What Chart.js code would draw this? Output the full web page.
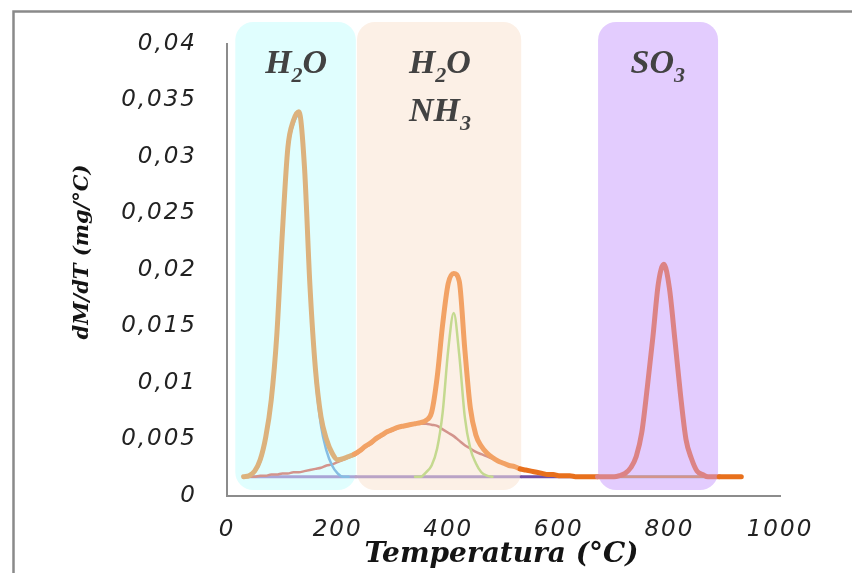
<!DOCTYPE html>
<html>
<head>
<meta charset="utf-8">
<script src="https://cdn.jsdelivr.net/npm/chart.js@4.4.1/dist/chart.umd.min.js"></script>
<style>
  html, body { margin: 0; padding: 0; background: #fff; }
  #wrap { width: 852px; height: 573px; }
</style>
</head>
<body>
<div id="wrap"><canvas id="dtgChart" width="852" height="573"></canvas></div>
<script>
// temperature (°C) and dM/dT (mg/°C)
const temps = [30, 40, 50, 60, 70, 80, 90, 100, 110, 120, 130, 140, 150, 160, 170, 180, 190, 200,
  210, 220, 230, 240, 250, 260, 270, 280, 290, 300, 310, 320, 330, 340, 350, 360, 370, 380, 390, 400,
  410, 420, 430, 440, 450, 460, 470, 480, 490, 500, 510, 520, 530, 540, 550, 560, 570, 580, 590, 600,
  610, 620, 630, 640, 650, 660, 670, 680, 690, 700, 710, 720, 730, 740, 750, 760, 770, 780, 790, 800,
  810, 820, 830, 840, 850, 860, 870, 880, 890, 900, 910, 920, 930];

// total signal (thick orange)
const totalCurve = [0.0017, 0.0018, 0.0022, 0.0032, 0.0052, 0.0085, 0.0142, 0.0232, 0.0308, 0.0332, 0.0340, 0.0292, 0.0186, 0.0112, 0.0070, 0.0050, 0.0038, 0.0032,
  0.0033, 0.0035, 0.0037, 0.0040, 0.0044, 0.0047, 0.0051, 0.0054, 0.0057, 0.0059, 0.0061, 0.0062, 0.0063, 0.0064, 0.0065, 0.0067, 0.0074, 0.0105, 0.0152, 0.0188,
  0.0197, 0.0190, 0.0130, 0.0078, 0.0054, 0.0044, 0.0038, 0.0034, 0.0031, 0.0029, 0.0027, 0.0026, 0.0024, 0.0023, 0.0022, 0.0021, 0.0020, 0.0019, 0.0019, 0.0018,
  0.0018, 0.0018, 0.0017, 0.0017, 0.0017, 0.0017, 0.0017, 0.0017, 0.0017, 0.0017, 0.0018, 0.0020, 0.0025, 0.0035, 0.0056, 0.0096, 0.0140, 0.0188, 0.0205, 0.0184,
  0.0138, 0.0090, 0.0050, 0.0033, 0.0022, 0.0019, 0.0017, 0.0017, 0.0017, 0.0017, 0.0017, 0.0017, 0.0017];

// first water loss (blue component)
const waterPeak1 = [0.0017, 0.0018, 0.0021, 0.0030, 0.0050, 0.0082, 0.0139, 0.0229, 0.0305, 0.0329, 0.0337, 0.0289, 0.0182, 0.0106, 0.0062, 0.0040, 0.0027, 0.0020,
  0.0017, 0.0017, null, null, null, null, null, null, null, null, null, null, null, null, null, null, null, null, null, null,
  null, null, null, null, null, null, null, null, null, null, null, null, null, null, null, null, null, null, null, null,
  null, null, null, null, null, null, null, null, null, null, null, null, null, null, null, null, null, null, null, null,
  null, null, null, null, null, null, null, null, null, null, null, null, null];

// broad ammonia band (rose component)
const ammoniaBand = [0.0017, 0.0017, 0.0017, 0.0018, 0.0018, 0.0019, 0.0019, 0.0020, 0.0020, 0.0021, 0.0021, 0.0022, 0.0023, 0.0024, 0.0025, 0.0027, 0.0028, 0.0030,
  0.0032, 0.0034, 0.0036, 0.0039, 0.0043, 0.0046, 0.0050, 0.0053, 0.0056, 0.0058, 0.0060, 0.0062, 0.0063, 0.0064, 0.0064, 0.0064, 0.0063, 0.0062, 0.0059, 0.0056,
  0.0053, 0.0049, 0.0045, 0.0042, 0.0039, 0.0037, 0.0035, 0.0033, 0.0031, 0.0029, 0.0027, 0.0026, 0.0024, 0.0023, 0.0022, 0.0021, 0.0020, 0.0019, 0.0019, 0.0018,
  0.0018, 0.0018, 0.0017, 0.0017, 0.0017, 0.0017, 0.0017, 0.0017, 0.0017, 0.0017, 0.0017, 0.0017, 0.0017, 0.0017, 0.0017, 0.0017, 0.0017, 0.0017, 0.0017, 0.0017,
  0.0017, 0.0017, 0.0017, 0.0017, 0.0017, 0.0017, 0.0017, 0.0017, 0.0017, 0.0017, 0.0017, 0.0017, 0.0017];

// second water loss (green component)
const waterPeak2 = [null, null, null, null, null, null, null, null, null, null, null, null, null, null, null, null, null, null,
  null, null, null, null, null, null, null, null, null, null, null, null, null, 0.0017, 0.0017, 0.0021, 0.0027, 0.0042, 0.0074, 0.0129,
  0.0162, 0.0125, 0.0070, 0.0042, 0.0029, 0.0021, 0.0018, 0.0017, null, null, null, null, null, null, null, null, null, null, null, null,
  null, null, null, null, null, null, null, null, null, null, null, null, null, null, null, null, null, null, null, null,
  null, null, null, null, null, null, null, null, null, null, null, null, null];

// flat baseline
const baseTemps = [30, 233, 532, 671, 888, 930];
const baseValues = [0.0017, 0.0017, 0.0017, 0.0017, 0.0017, 0.0017];

// shaded regions: [from °C, to °C, fill]
const regions = [
  [15, 233, '#e0fefe'],
  [235, 532, '#fcf0e6'],
  [671, 888, '#e3ccfe']
];
const regionTop = 0.04195;
const regionBottom = 0.00053;

// region labels, "_" marks the subscript digit
const regionLabels = [
  ['H_2O', 125, 0.0374],
  ['H_2O', 385, 0.0374],
  ['NH_3', 385, 0.0332],
  ['SO_3', 779, 0.0374]
];

const xTicks = [0, 200, 400, 600, 800, 1000];
const xTitle = 'Temperatura (°C)';
const yTitle = 'dM/dT (mg/°C)';

function pts(xs, ys) {
  return xs.map((t, i) => ({x: t, y: ys[i]}));
}

// colour of a line depends on which shaded region it passes under
function zoneColor(t, cols) {
  if (t < 233) return cols[0];
  if (t < 532) return cols[1];
  if (t >= 671 && t < 888) return cols[3];
  return cols[2];
}
const totalCols = ['#dcb27d', '#f2a265', '#e8701c', '#dc8385'];
const baseCols = ['#a9a5d6', '#b9a3c6', '#6f4fa5', '#aaa2bf'];

function roundRect(ctx, x, y, w, h, r) {
  ctx.beginPath();
  ctx.moveTo(x + r, y);
  ctx.arcTo(x + w, y, x + w, y + h, r);
  ctx.arcTo(x + w, y + h, x, y + h, r);
  ctx.arcTo(x, y + h, x, y, r);
  ctx.arcTo(x, y, x + w, y, r);
  ctx.closePath();
}

const regionPlugin = {
  id: 'regions',
  beforeDraw(chart) {
    // wide tick lettering like the original
    chart.ctx.letterSpacing = '2px';
  },
  beforeDatasetsDraw(chart) {
    const {ctx, scales: {x, y}} = chart;
    ctx.save();
    const top = y.getPixelForValue(regionTop);
    const bot = y.getPixelForValue(regionBottom);
    regions.forEach(r => {
      const x0 = x.getPixelForValue(r[0]);
      const x1 = x.getPixelForValue(r[1]);
      ctx.fillStyle = r[2];
      roundRect(ctx, x0, top, x1 - x0, bot - top, 18);
      ctx.fill();
    });
    ctx.restore();
  },
  afterDatasetsDraw(chart) {
    const {ctx, scales: {x, y}} = chart;
    ctx.save();
    ctx.letterSpacing = '0px';
    ctx.fillStyle = '#424242';
    ctx.textBaseline = 'alphabetic';
    const big = 'italic bold 34px "Liberation Serif"';
    const small = 'italic bold 22px "Liberation Serif"';
    regionLabels.forEach(l => {
      const parts = l[0].split('_');
      const pieces = [[parts[0], false]];
      if (parts[1]) {
        pieces.push([parts[1][0], true]);
        if (parts[1].length > 1) pieces.push([parts[1].slice(1), false]);
      }
      let w = 0;
      pieces.forEach(p => { ctx.font = p[1] ? small : big; w += ctx.measureText(p[0]).width; });
      let px = x.getPixelForValue(l[1]) - w / 2;
      const py = y.getPixelForValue(l[2]);
      pieces.forEach(p => {
        ctx.font = p[1] ? small : big;
        ctx.fillText(p[0], px, py + (p[1] ? 9 : 0));
        px += ctx.measureText(p[0]).width;
      });
    });
    ctx.restore();
  },
  afterDraw(chart) {
    const {ctx, chartArea} = chart;
    ctx.save();
    ctx.letterSpacing = '0px';
    // axis titles
    ctx.fillStyle = '#141414';
    ctx.textAlign = 'center';
    ctx.textBaseline = 'middle';
    ctx.font = 'italic bold 28px "DejaVu Serif"';
    ctx.fillText(xTitle, (chartArea.left + chartArea.right) / 2 - 2, 555);
    ctx.translate(83, 252);
    ctx.rotate(-Math.PI / 2);
    ctx.font = 'italic bold 21px "DejaVu Serif"';
    ctx.fillText(yTitle, 0, 0);
    ctx.setTransform(1, 0, 0, 1, 0, 0);
    // outer frame
    ctx.strokeStyle = '#8a8a8a';
    ctx.lineWidth = 2.5;
    ctx.strokeRect(13.5, 11.5, 900, 600);
    ctx.restore();
    ctx.letterSpacing = '0px';
  }
};

const tickFont = {family: 'DejaVu Sans', style: 'italic', size: 23};

const ctx = document.getElementById('dtgChart').getContext('2d');
new Chart(ctx, {
  type: 'line',
  data: {
    datasets: [
      {
        label: 'total',
        data: pts(temps, totalCurve),
        borderWidth: 5,
        borderColor: totalCols[2],
        segment: { borderColor: c => zoneColor((c.p0.parsed.x + c.p1.parsed.x) / 2, totalCols) }
      },
      { label: 'H2O (1)', data: pts(temps, waterPeak1), borderWidth: 2.5, borderColor: '#86bde3' },
      { label: 'H2O (2)', data: pts(temps, waterPeak2), borderWidth: 2.5, borderColor: '#c4d98f' },
      { label: 'NH3', data: pts(temps, ammoniaBand), borderWidth: 2.5, borderColor: '#d3948c' },
      {
        label: 'base',
        data: pts(baseTemps, baseValues),
        borderWidth: 3,
        borderColor: baseCols[2],
        segment: { borderColor: c => zoneColor((c.p0.parsed.x + c.p1.parsed.x) / 2, baseCols) }
      }
    ]
  },
  options: {
    responsive: false,
    animation: false,
    devicePixelRatio: 1,
    layout: { padding: { top: 44, right: 72, left: 0, bottom: 0 } },
    plugins: { legend: { display: false }, tooltip: { enabled: false } },
    elements: {
      point: { radius: 0 },
      line: { cubicInterpolationMode: 'monotone', borderCapStyle: 'round', borderJoinStyle: 'round' }
    },
    scales: {
      x: {
        type: 'linear',
        min: 0,
        max: 1000,
        afterBuildTicks: s => { s.ticks = xTicks.map(v => ({value: v})); },
        afterFit: s => { s.height = 77; },
        grid: { display: false, drawTicks: false },
        border: { color: '#8c8c8c', width: 2 },
        ticks: { padding: 20, color: '#222', font: tickFont, maxRotation: 0, callback: v => String(v) }
      },
      y: {
        min: 0,
        max: 0.04,
        afterFit: s => { s.width = 227; },
        grid: { display: false, drawTicks: false },
        border: { color: '#8c8c8c', width: 2 },
        ticks: {
          stepSize: 0.005,
          padding: 30,
          color: '#222',
          font: tickFont,
          callback: v => parseFloat(v.toFixed(3)).toString().replace('.', ',')
        }
      }
    }
  },
  plugins: [regionPlugin]
});
</script>
</body>
</html>
